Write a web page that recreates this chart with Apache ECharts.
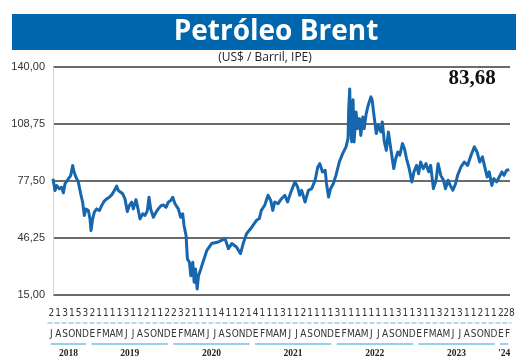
<!DOCTYPE html>
<html>
<head>
<meta charset="utf-8">
<script src="https://cdn.jsdelivr.net/npm/echarts@6/dist/echarts.min.js"></script>
<style>html,body{margin:0;padding:0;background:#fff}#c{width:520px;height:363px}</style>
</head>
<body>
<div id="c"></div>
<script>
// Months since 1 Jul 2018 (x) and Brent price in US$/barrel (y)
const brentMonth = [0.0,0.3,0.55,0.94,1.29,1.54,1.79,2.28,2.63,2.93,3.13,3.42,3.77,4.12,4.41,4.66,4.91,5.26,5.51,5.65,5.9,6.15,6.5,6.9,7.24,7.59,7.99,8.38,8.73,9.13,9.47,9.72,9.97,10.37,10.71,11.06,11.36,11.71,11.95,12.35,12.65,12.95,13.34,13.69,14.04,14.29,14.53,14.93,15.33,15.67,16.07,16.42,16.82,17.16,17.51,17.81,18.15,18.65,19.0,19.3,19.5,19.8,20.0,20.3,20.5,20.8,21.0,21.2,21.45,21.65,22.0,22.4,22.9,23.6,24.6,25.6,26.1,26.6,27.3,27.9,28.3,28.8,29.6,30.3,30.7,31.0,31.5,32.0,32.4,32.7,33.0,33.5,34.0,34.5,34.9,35.4,36.0,36.4,36.7,37.0,37.5,38.0,38.5,39.0,39.4,39.7,40.1,40.5,40.7,41.0,41.3,41.7,42.1,42.6,43.1,43.6,43.9,44.0,44.15,44.3,44.45,44.65,44.8,45.1,45.3,45.6,45.8,46.1,46.3,46.6,46.9,47.3,47.5,47.7,48.1,48.4,48.8,49.0,49.3,49.6,49.9,50.3,50.7,51.0,51.3,51.6,52.0,52.3,52.6,53.0,53.4,53.7,54.1,54.4,54.7,55.1,55.5,55.9,56.2,56.6,57.0,57.3,57.7,58.1,58.4,58.8,59.1,59.5,59.9,60.2,60.7,61.2,61.7,62.2,62.7,63.1,63.5,63.9,64.3,64.6,64.9,65.3,65.6,66.0,66.4,66.8,67.1,67.5,67.9];
const brentPrice = [78.7,72.3,75,73.2,74,71,76,78.7,80.5,86,82.4,79.6,76.9,70.5,65.9,58.6,62.2,61.3,56.7,50.3,56.7,60.4,62.2,61.3,64,66.3,67.7,68.6,69.9,72.3,74.7,72.3,73.2,70.5,67.7,60.8,64,65.9,62.2,67.3,62.2,56.7,59.5,58.6,61.3,68.6,62.2,57.6,60.4,62.2,64,64.4,63.1,65.9,66.8,68.6,65,62.2,57.6,59.5,53,47.6,34.8,33,25.6,33,22,29.3,18.3,25.6,29.3,34,39.5,43.2,44.1,45.9,40.4,43.2,41.3,37.7,43.2,48.6,52.3,56,56.9,61.4,64.2,69.7,66.9,61.4,66,65.1,67.8,69.7,66,71.5,77,74.2,69.7,72.4,66,72.4,73.3,77.9,85.2,87,82.4,83.4,76,68.7,73.3,76,80.6,87.9,92.5,96.2,100.7,117,128,106,99,122,98.9,115.3,106.2,111.7,102.5,112.6,106.2,114.4,119,123.6,121.7,115.3,103.5,108,104.4,109.9,98.9,94.3,104.4,94.3,84.3,89.8,93.4,91.6,98,95.2,89.8,84.3,77,82.5,86.1,81.5,87.9,84.3,87,82.5,86.1,73.3,77.9,87,80.6,77.9,73.3,77.9,75.1,72.4,76,80.6,85.2,87.9,86.1,91.6,96.2,93.4,87.9,90.7,84.3,79.7,82.5,75.1,78.8,77,79.7,82.5,80.6,83.4,83.68];

// Month letters (Spanish initials), Jul 2018 .. Feb 2024
const monthLetters = ['J','A','S','O','N','D',
  'E','F','M','A','M','J','J','A','S','O','N','D',
  'E','F','M','A','M','J','J','A','S','O','N','D',
  'E','F','M','A','M','J','J','A','S','O','N','D',
  'E','F','M','A','M','J','J','A','S','O','N','D',
  'E','F','M','A','M','J','J','A','S','O','N','D',
  'E','F'];
// First quoted day of each month
const dayLabels = ['2','1','3','1','5','3',
  '2','1','1','1','1','3','1','1','2','1','1','2',
  '2','3','2','1','1','1','1','4','1','1','2','1',
  '4','1','1','1','3','1','1','2','1','1','1','1',
  '3','1','1','1','1','1','1','1','1','3','1','1',
  '3','1','1','3','2','1','3','1','1','2','1','1',
  '2','.28'];
const yearLabels = ['2018','2019','2020','2021','2022','2023',"'24"];
const yearMonths = [6,12,12,12,12,12,2];
const yTickLabels = ['15,00','46,25','77,50','108,75','140,00'];

const yearStart = [];
let acc = 0;
yearMonths.forEach(n => { yearStart.push(acc); acc += n; });
const yearCenterLabel = {};
yearLabels.forEach((y, i) => { yearCenterLabel[yearStart[i] + yearMonths[i] / 2] = y; });

const lastValue = brentPrice[brentPrice.length - 1].toFixed(2).replace('.', ',');

const narrow = "'Liberation Sans Narrow','DejaVu Sans Condensed',sans-serif";
const underlineColor = '#93d1ee';

const underlineSeries = yearLabels.map((y, i) => ({
  type: 'line', xAxisIndex: 3, yAxisIndex: 2, silent: true, showSymbol: false,
  lineStyle: { color: underlineColor, width: 2 },
  data: [[yearStart[i] + 0.4, 0.5], [yearStart[i] + yearMonths[i] - 0.4, 0.5]]
}));

const chart = echarts.init(document.getElementById('c'));
chart.setOption({
  animation: false,
  graphic: [{ type: 'rect', shape: { x: 12, y: 14, width: 504, height: 36 }, style: { fill: '#0066ad' }, z: -10 }],
  title: [
    { text: 'Petróleo Brent', left: 276, top: 18, textAlign: 'center', padding: 0,
      textStyle: { color: '#fff', fontFamily: 'Open Sans', fontWeight: 'bold', fontSize: 28 } },
    { text: '(US$ / Barril, IPE)', left: 265, top: 52, textAlign: 'center', padding: 0,
      textStyle: { color: '#222', fontFamily: 'Open Sans', fontWeight: 'normal', fontSize: 12 } },
    { text: lastValue, left: 472, top: 68, textAlign: 'center', padding: 0,
      textStyle: { color: '#111', fontFamily: 'Liberation Serif', fontWeight: 'bold', fontSize: 21 } }
  ],
  grid: [
    { left: 53, right: 10, top: 67, height: 228 },
    { left: 48, right: 9, top: 295, height: 28 },
    { left: 48, right: 9, top: 343, height: 2 }
  ],
  xAxis: [
    { gridIndex: 0, type: 'value', min: 0, max: 68, show: false },
    { gridIndex: 1, type: 'category', data: dayLabels, position: 'bottom', offset: -22,
      axisLine: { show: false }, axisTick: { show: false },
      axisLabel: { interval: 0, margin: 7, fontSize: 10, color: '#333', fontFamily: narrow } },
    { gridIndex: 1, type: 'category', data: monthLetters, position: 'bottom',
      axisLine: { show: true, lineStyle: { color: underlineColor, width: 1.5, type: [4, 3] } },
      axisTick: { show: false },
      axisLabel: { interval: 0, margin: 6, fontSize: 10, color: '#333', fontFamily: narrow } },
    { gridIndex: 2, type: 'value', min: 0, max: 68, interval: 1, position: 'bottom',
      axisLine: { show: false }, axisTick: { show: false }, splitLine: { show: false },
      axisLabel: { margin: 4, fontSize: 9.5, color: '#222', fontWeight: 'bold', fontFamily: 'Liberation Serif',
        formatter: v => yearCenterLabel[v] || '' } }
  ],
  yAxis: [
    { gridIndex: 0, type: 'value', min: 15, max: 140, interval: 31.25,
      axisLine: { show: true, onZero: false, lineStyle: { color: '#d4d4d4', width: 1 } },
      axisTick: { show: false },
      splitLine: { show: true, lineStyle: { color: '#3a3a3a', width: 1.5 } },
      axisLabel: { margin: 8, fontSize: 11, color: '#333', fontFamily: 'Liberation Sans',
        formatter: (v) => yTickLabels[Math.round((v - 15) / 31.25)] } },
    { gridIndex: 1, type: 'value', min: 0, max: 1, show: false },
    { gridIndex: 2, type: 'value', min: 0, max: 1, show: false }
  ],
  series: [
    { type: 'line', xAxisIndex: 0, yAxisIndex: 0, showSymbol: false, silent: true,
      lineStyle: { color: '#1767ae', width: 3, join: 'round' },
      data: brentMonth.map((m, i) => [m, brentPrice[i]]) },
    ...underlineSeries
  ]
});
</script>
</body>
</html>
